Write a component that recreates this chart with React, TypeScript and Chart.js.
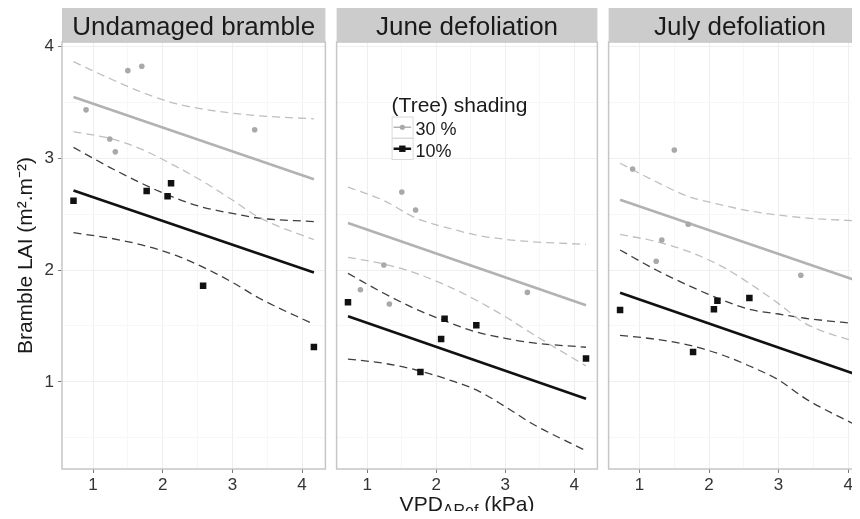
import React, { useEffect, useRef } from 'react';
import { Chart, registerables } from 'chart.js';

Chart.register(...registerables);

const FONT = '"Liberation Sans", Arial, Helvetica, sans-serif';

// ---------- data ----------
const panelTitles = ['Undamaged bramble', 'June defoliation', 'July defoliation'];
const legendTitle = '(Tree) shading';
const shadingLabels = ['30 %', '10%'];
const yAxisTitle = 'Bramble LAI (m².m⁻²)';
const xTitleMain = 'VPD';
const xTitleSub = 'ARef';
const xTitleUnit = ' (kPa)';

const xTickValues = [1, 1.5, 2, 2.5, 3, 3.5, 4];
const yTickValues = [0.5, 1, 1.5, 2, 2.5, 3, 3.5, 4];

// VPD of plots (x) for each shading level
const vpd30 = [0.9, 1.24, 1.32, 1.5, 1.7, 3.32];
const vpd10 = [0.72, 1.77, 2.07, 2.12, 2.58, 4.17];

// observed LAI
const undamaged30 = [3.43, 3.17, 3.055, 3.78, 3.82, 3.253];
const undamaged10 = [2.618, 2.705, 2.658, 2.774, 1.86, 1.312];
const june30 = [1.824, 2.045, 1.696, 2.696, 2.536, 1.8];
const june10 = [1.712, 1.089, 1.384, 1.565, 1.506, 1.21];
const july30 = [2.902, 2.078, 2.268, 3.071, 2.408, 1.953];
const july10 = [1.643, 1.268, 1.649, 1.726, 1.75, 0.7];

// fitted regression lines (start, end)
const fitX = [0.72, 4.17];
const undamagedFit30 = [3.545, 2.81];
const undamagedFit10 = [2.71, 1.978];
const juneFit30 = [2.42, 1.685];
const juneFit10 = [1.587, 0.851];
const julyFit30 = [2.628, 1.895];
const julyFit10 = [1.797, 1.056];

// confidence bands read along VPD
const bandX = [0.72, 1.24, 1.71, 2.19, 2.58, 3.0, 3.38, 4.17];
const undamagedUp30 = [3.86, 3.71, 3.585, 3.485, 3.437, 3.4, 3.377, 3.35];
const undamagedLo30 = [3.235, 3.175, 3.075, 2.925, 2.79, 2.625, 2.47, 2.27];
const undamagedUp10 = [3.095, 2.917, 2.77, 2.64, 2.56, 2.505, 2.463, 2.432];
const undamagedLo10 = [2.333, 2.285, 2.222, 2.13, 2.025, 1.89, 1.75, 1.515];
const juneUp30 = [2.741, 2.62, 2.462, 2.372, 2.312, 2.274, 2.253, 2.229];
const juneLo30 = [2.113, 2.054, 1.97, 1.85, 1.73, 1.583, 1.435, 1.143];
const juneUp10 = [1.97, 1.792, 1.649, 1.53, 1.446, 1.39, 1.351, 1.31];
const juneLo10 = [1.205, 1.167, 1.107, 1.018, 0.929, 0.78, 0.631, 0.386];
const julyUp30 = [2.953, 2.788, 2.655, 2.58, 2.527, 2.49, 2.465, 2.437];
const julyLo30 = [2.319, 2.253, 2.164, 2.03, 1.881, 1.7, 1.524, 1.345];
const julyUp10 = [2.179, 2.0, 1.86, 1.732, 1.649, 1.607, 1.569, 1.518];
const julyLo10 = [1.417, 1.381, 1.33, 1.241, 1.143, 1.018, 0.854, 0.596];

// ---------- styles ----------
const GREY_PT = '#a9a9a9';
const GREY_LINE = '#b2b2b2';
const GREY_DASH = '#bfbfbf';
const BLACK = '#111111';
const BLACK_DASH = '#3e3e3e';

const pts = (xs: number[], ys: number[]) => xs.map((x, i) => ({ x, y: ys[i] }));

type PanelDef = {
  title: string;
  g: number[]; b: number[];
  fg: number[]; fb: number[];
  gu: number[]; gl: number[]; bu: number[]; bl: number[];
  left: number; width: number; padL: number; padR: number;
  first: boolean; middle: boolean;
};

const panels: PanelDef[] = [
  { title: panelTitles[0], g: undamaged30, b: undamaged10, fg: undamagedFit30, fb: undamagedFit10,
    gu: undamagedUp30, gl: undamagedLo30, bu: undamagedUp10, bl: undamagedLo10,
    left: 0, width: 330, padL: 0, padR: 3, first: true, middle: false },
  { title: panelTitles[1], g: june30, b: june10, fg: juneFit30, fb: juneFit10,
    gu: juneUp30, gl: juneLo30, bu: juneUp10, bl: juneLo10,
    left: 332, width: 270, padL: 2, padR: 3, first: false, middle: true },
  { title: panelTitles[2], g: july30, b: july10, fg: julyFit30, fb: julyFit10,
    gu: julyUp30, gl: julyLo30, bu: julyUp10, bl: julyLo10,
    left: 604, width: 272, padL: 3, padR: 4, first: false, middle: false },
];

const facetPlugin = {
  id: 'facet',
  afterDraw(chart: any, _args: any, opts: any) {
    const { ctx, chartArea: a } = chart;
    ctx.save();
    ctx.fillStyle = '#cccccc';
    ctx.fillRect(a.left, 8, a.right - a.left, a.top - 8);
    ctx.fillStyle = '#1a1a1a';
    ctx.font = `26px ${FONT}`;
    ctx.textAlign = 'center';
    ctx.textBaseline = 'alphabetic';
    ctx.fillText(opts.title, (a.left + a.right) / 2, 35);
    ctx.strokeStyle = '#c6c6c6';
    ctx.lineWidth = 1.5;
    ctx.strokeRect(a.left, a.top, a.right - a.left, a.bottom - a.top);

    if (opts.middle) {
      // x axis title with subscript
      const base = 511;
      ctx.font = `21px ${FONT}`;
      const w1 = ctx.measureText(xTitleMain).width;
      const w3 = ctx.measureText(xTitleUnit).width;
      ctx.font = `16px ${FONT}`;
      const w2 = ctx.measureText(xTitleSub).width;
      const total = w1 + w2 + w3;
      let x = (a.left + a.right) / 2 - total / 2;
      ctx.textAlign = 'left';
      ctx.fillStyle = '#1a1a1a';
      ctx.font = `21px ${FONT}`;
      ctx.fillText(xTitleMain, x, base);
      x += w1;
      ctx.font = `16px ${FONT}`;
      ctx.fillText(xTitleSub, x, base + 5);
      x += w2;
      ctx.font = `21px ${FONT}`;
      ctx.fillText(xTitleUnit, x, base);

      // legend
      const x0 = a.left + 55;
      ctx.font = `21px ${FONT}`;
      ctx.fillText(legendTitle, x0, a.top + 70);
      const keys = [
        { label: shadingLabels[0], color: GREY_LINE, lw: 1.5, marker: 'circle', mc: GREY_PT },
        { label: shadingLabels[1], color: BLACK, lw: 2.5, marker: 'rect', mc: BLACK },
      ];
      keys.forEach((k, i) => {
        const top = a.top + 74.5 + i * 21.5;
        ctx.fillStyle = '#ffffff';
        ctx.fillRect(x0, top, 21.5, 21.5);
        ctx.strokeStyle = '#dadada';
        ctx.lineWidth = 1;
        ctx.strokeRect(x0 + 0.5, top + 0.5, 21, 21);
        const cy = top + 10.75;
        ctx.strokeStyle = k.color;
        ctx.lineWidth = k.lw;
        ctx.beginPath();
        ctx.moveTo(x0 + 2, cy);
        ctx.lineTo(x0 + 19.5, cy);
        ctx.stroke();
        ctx.fillStyle = k.mc;
        if (k.marker === 'circle') {
          ctx.beginPath();
          ctx.arc(x0 + 10.75, cy, 2.6, 0, Math.PI * 2);
          ctx.fill();
        } else {
          ctx.fillRect(x0 + 10.75 - 3.2, cy - 3.2, 6.4, 6.4);
        }
        ctx.fillStyle = '#1a1a1a';
        ctx.font = `18px ${FONT}`;
        ctx.fillText(k.label, x0 + 24, top + 18.5);
      });
    }
    ctx.restore();
  },
};

const isMajor = (v: number) => Math.abs(v - Math.round(v)) < 1e-6;

function makeConfig(p: PanelDef): any {
  const band = (ys: number[], color: string) => ({
    data: pts(bandX, ys),
    showLine: true,
    borderColor: color,
    borderWidth: 1.3,
    borderDash: [8, 5],
    cubicInterpolationMode: 'monotone',
    pointRadius: 0,
    order: 3,
  });
  return {
    type: 'scatter',
    data: {
      datasets: [
        { label: shadingLabels[0], data: pts(vpd30, p.g), pointStyle: 'circle', pointRadius: 2.8,
          backgroundColor: GREY_PT, borderWidth: 0, showLine: false, order: 0 },
        { label: shadingLabels[1], data: pts(vpd10, p.b), pointStyle: 'rect', pointRadius: 4.6,
          backgroundColor: BLACK, borderWidth: 0, showLine: false, order: 0 },
        { data: pts(fitX, p.fg), showLine: true, borderColor: GREY_LINE, borderWidth: 2.6, pointRadius: 0, order: 2 },
        { data: pts(fitX, p.fb), showLine: true, borderColor: BLACK, borderWidth: 2.6, pointRadius: 0, order: 2 },
        band(p.gu, GREY_DASH),
        band(p.gl, GREY_DASH),
        band(p.bu, BLACK_DASH),
        band(p.bl, BLACK_DASH),
      ],
    },
    options: {
      responsive: false,
      animation: false,
      events: [],
      layout: { padding: { top: 42, left: p.padL, right: p.padR, bottom: 0 } },
      plugins: {
        legend: { display: false },
        tooltip: { enabled: false },
        facet: { title: p.title, middle: p.middle },
      },
      scales: {
        x: {
          type: 'linear',
          min: 0.555,
          max: 4.335,
          afterBuildTicks: (s: any) => { s.ticks = xTickValues.map((v) => ({ value: v })); },
          afterFit: (s: any) => { s.height = 50; },
          border: { display: false },
          grid: {
            color: (c: any) => (c.tick && isMajor(c.tick.value) ? '#efefef' : '#f7f7f7'),
            tickColor: (c: any) => (c.tick && isMajor(c.tick.value) ? '#7a7a7a' : 'rgba(0,0,0,0)'),
            tickLength: 4,
            lineWidth: 1,
          },
          ticks: {
            callback: (v: any) => (isMajor(Number(v)) ? String(Math.round(Number(v))) : ''),
            font: { size: 17, family: FONT },
            color: '#333333',
            padding: 2,
            maxRotation: 0,
            autoSkip: false,
          },
        },
        y: {
          type: 'linear',
          min: 0.223,
          max: 4.036,
          afterBuildTicks: (s: any) => { s.ticks = yTickValues.map((v) => ({ value: v })); },
          afterFit: (s: any) => { s.width = p.first ? 62 : 0; },
          border: { display: false },
          grid: {
            color: (c: any) => (c.tick && isMajor(c.tick.value) ? '#efefef' : '#f7f7f7'),
            tickColor: (c: any) => (c.tick && isMajor(c.tick.value) ? '#7a7a7a' : 'rgba(0,0,0,0)'),
            tickLength: p.first ? 4 : 0,
            drawTicks: p.first,
            lineWidth: 1,
          },
          ticks: {
            display: p.first,
            callback: (v: any) => (isMajor(Number(v)) ? String(Math.round(Number(v))) : ''),
            font: { size: 17, family: FONT },
            color: '#333333',
            padding: 4,
            autoSkip: false,
          },
          title: {
            display: p.first,
            text: yAxisTitle,
            font: { size: 21, family: FONT },
            color: '#1a1a1a',
            padding: { top: 14, bottom: 0 },
          },
        },
      },
    },
    plugins: [facetPlugin],
  };
}

function Panel({ p }: { p: PanelDef }) {
  const ref = useRef<HTMLCanvasElement>(null);
  useEffect(() => {
    const chart = new Chart(ref.current as HTMLCanvasElement, makeConfig(p));
    return () => chart.destroy();
  }, [p]);
  return (
    <canvas
      ref={ref}
      width={p.width}
      height={519}
      style={{ position: 'absolute', left: p.left, top: 0, width: p.width, height: 519 }}
    />
  );
}

export default function App() {
  return (
    <div
      style={{
        position: 'relative',
        width: 860,
        height: 519,
        margin: -8,
        overflow: 'hidden',
        background: '#ffffff',
      }}
    >
      {panels.map((p) => (
        <Panel key={p.title} p={p} />
      ))}
    </div>
  );
}
